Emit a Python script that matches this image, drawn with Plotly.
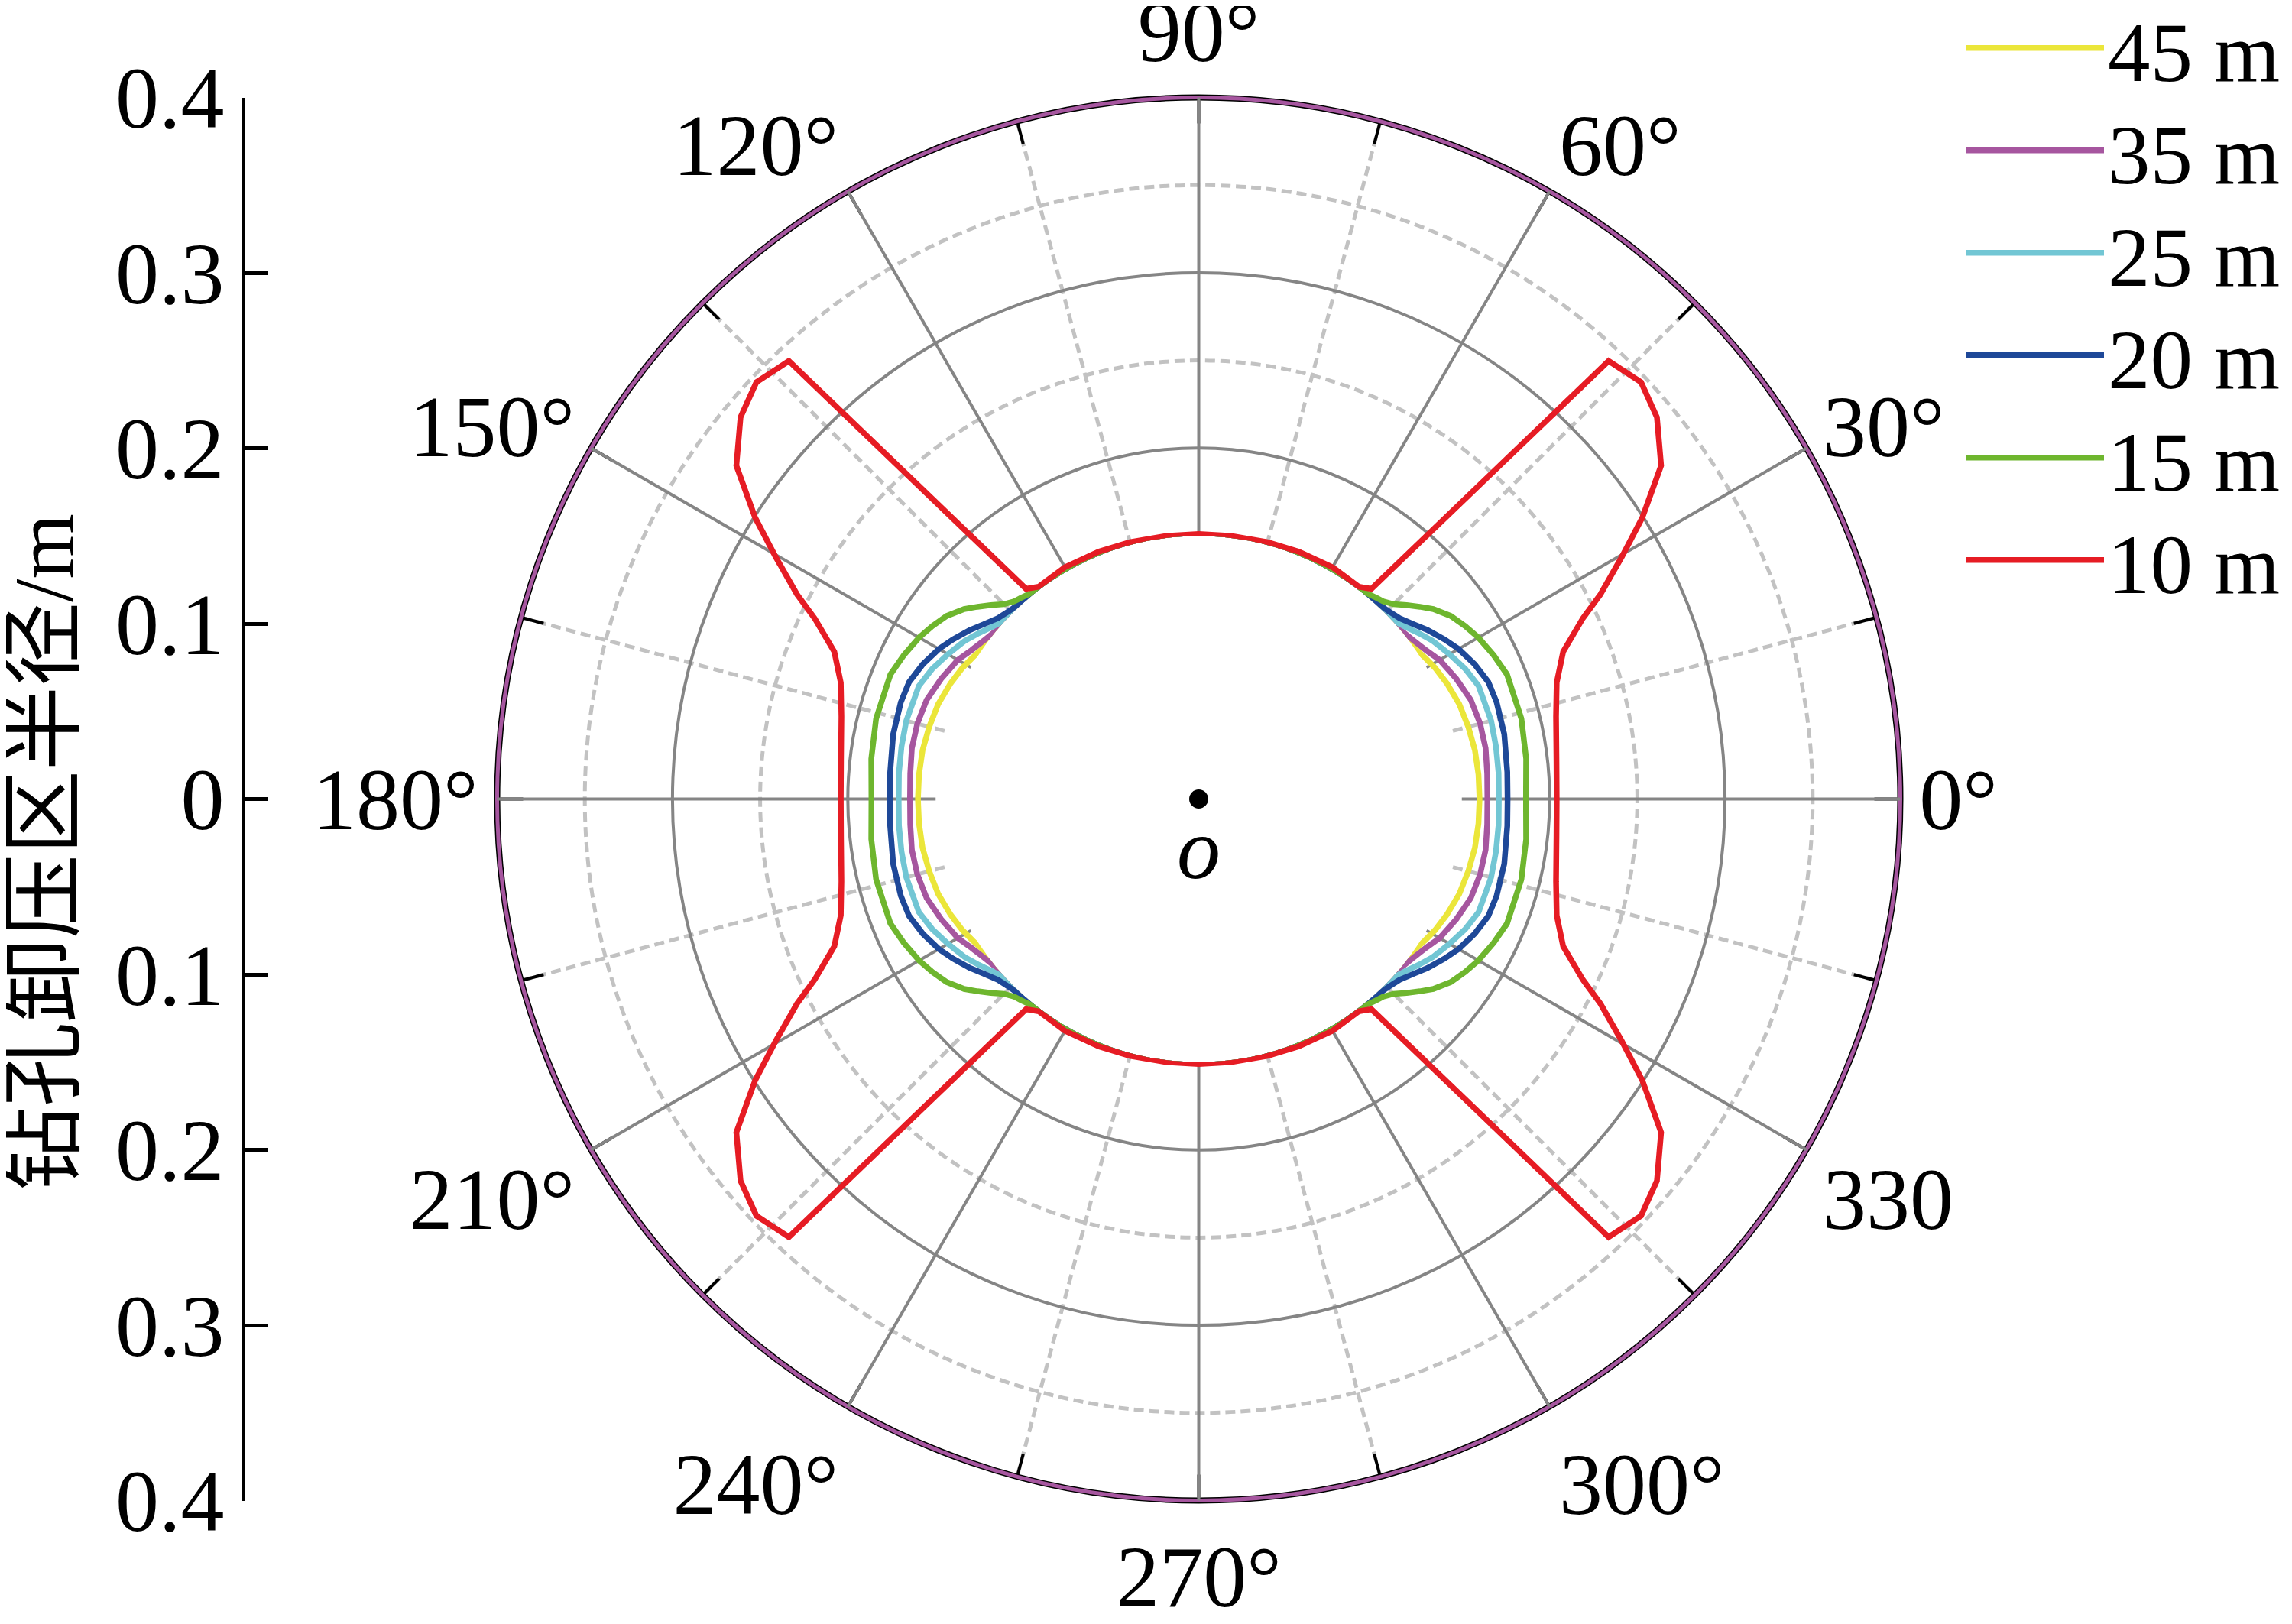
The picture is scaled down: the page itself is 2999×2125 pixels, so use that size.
import plotly.graph_objects as go

# ---------------- data (first quadrant, theta in degrees; curves are symmetric about both axes) -------------
series_names = ["45 m", "35 m", "25 m", "20 m", "15 m", "10 m"]
series_colors = ["#ebe63a", "#a6569f", "#72c6d4", "#1e4898", "#6eb62e", "#e61c24"]

theta_45m = [0, 5, 10, 15, 20, 25, 29, 32, 35, 45, 60, 75, 90]
r_45m = [0.160, 0.160, 0.1598, 0.159, 0.158, 0.156, 0.154, 0.152, 0.150, 0.150, 0.150, 0.150, 0.150]

theta_35m = [0, 5, 10, 15, 20, 25, 30, 33, 36.6, 40, 50, 60, 75, 90]
r_35m = [0.1645, 0.165, 0.166, 0.166, 0.165, 0.162, 0.1585, 0.155, 0.152, 0.150, 0.150, 0.150, 0.150, 0.150]

theta_25m = [0, 5, 10, 15, 22, 26, 30, 34, 37, 40, 43, 55, 70, 90]
r_25m = [0.171, 0.1715, 0.172, 0.1725, 0.172, 0.169, 0.165, 0.161, 0.157, 0.153, 0.150, 0.150, 0.150, 0.150]

theta_20m = [0, 5, 12, 18, 22, 26, 30, 33, 36.5, 39, 42, 45, 48, 52, 65, 80, 90]
r_20m = [0.176, 0.1765, 0.178, 0.1785, 0.178, 0.175, 0.171, 0.167, 0.162, 0.158, 0.154, 0.152, 0.151, 0.150,
         0.150, 0.150, 0.150]

theta_15m = [0, 7, 14, 22, 26, 30, 33, 36, 39, 41, 43, 45, 47, 48.5, 53, 65, 80, 90]
r_15m = [0.1865, 0.188, 0.1895, 0.1895, 0.187, 0.184, 0.181, 0.1775, 0.172, 0.167, 0.162, 0.157, 0.154, 0.153,
         0.150, 0.150, 0.150, 0.150]

theta_10m = [0, 6, 13, 18, 22, 25.2, 27, 29.8, 32.4, 35.8, 39.8, 43.3, 46.9, 50.6, 53, 60, 68, 75, 83, 90]
r_10m = [0.204, 0.205, 0.209, 0.2145, 0.224, 0.242, 0.257, 0.278, 0.2995, 0.325, 0.340, 0.3465, 0.342, 0.155,
         0.1515, 0.1525, 0.152, 0.1515, 0.151, 0.151]

series_theta = [theta_45m, theta_35m, theta_25m, theta_20m, theta_15m, theta_10m]
series_r = [r_45m, r_35m, r_25m, r_20m, r_15m, r_10m]

angle_ticks = [0, 30, 60, 90, 120, 150, 180, 210, 240, 270, 300, 330]
angle_labels = ["0°", "30°", "60°", "90°", "120°", "150°", "180°", "210°", "240°", "270°", "300°", "330"]
minor_angle_ticks = [15, 45, 75, 105, 135, 165, 195, 225, 255, 285, 315, 345]
major_r_ticks = [0.2, 0.3]
minor_r_ticks = [0.15, 0.25, 0.35]
y_ticks = [-0.4, -0.3, -0.2, -0.1, 0, 0.1, 0.2, 0.3, 0.4]
y_labels = ["0.4", "0.3", "0.2", "0.1", "0", "0.1", "0.2", "0.3", "0.4"]
y_title = "钻孔卸压区半径/m"


def mirror_quadrants(th, r):
    """Extend first-quadrant readings to the full circle using the figure's two-axis symmetry."""
    T = list(th) + [180 - t for t in reversed(th)] + [180 + t for t in th] + [360 - t for t in reversed(th)]
    R = list(r) + list(reversed(r)) + list(r) + list(reversed(r))
    return T, R


W, H = 2999, 2125
cx, cy, Rpx = 1560.5, 1037.5, 918.0
xdom = [(cx - Rpx) / W, (cx + Rpx) / W]
ydom = [1 - (cy + Rpx) / H, 1 - (cy - Rpx) / H]
dom = dict(x=xdom, y=ydom)

SERIF = "Liberation Serif"
CJK_FONT = "Liberation Serif, Noto Sans CJK SC"
FS = 114
GRID_MAJOR = "#858585"
GRID_MINOR = "#c2c2c2"
DASH = "13px,7px"

fig = go.Figure()

# invisible points so the grid-only polar layers get rendered
for sp in ["polar", "polar2", "polar3"]:
    fig.add_trace(go.Scatterpolar(r=[0.4], theta=[0], subplot=sp, mode="markers",
                                  marker=dict(opacity=0, size=1), showlegend=False, hoverinfo="skip"))

legend_names = ["legend", "legend2", "legend3", "legend4", "legend5", "legend6"]
for i, (name, col, th, rr) in enumerate(zip(series_names, series_colors, series_theta, series_r)):
    T, R = mirror_quadrants(th, rr)
    fig.add_trace(go.Scatterpolar(
        theta=T, r=R, mode="lines", name=name, subplot="polar4",
        line=dict(color=col, width=7.5), cliponaxis=False, legend=legend_names[i],
    ))

# centre point O
fig.add_trace(go.Scatter(x=[0], y=[0], mode="markers", marker=dict(size=25, color="black"),
                         showlegend=False, cliponaxis=False, xaxis="x", yaxis="y", hoverinfo="skip"))

tickfont = dict(family=SERIF, size=FS, color="black")
hidden_radial = dict(visible=False, range=[0, 0.4])

layout = dict(
    width=W, height=H,
    margin=dict(l=0, r=0, t=0, b=0, autoexpand=False),
    paper_bgcolor="white", plot_bgcolor="rgba(0,0,0,0)",
    font=dict(family=SERIF, size=FS, color="black"),
    # dashed minor grid + minor angular tick marks
    polar=dict(
        domain=dom, hole=0.375, bgcolor="white",
        radialaxis=dict(range=[0.1499, 0.4], tickmode="array", tickvals=minor_r_ticks, showticklabels=False,
                        ticks="", showline=False, gridcolor=GRID_MINOR, gridwidth=4.5, griddash=DASH),
        angularaxis=dict(rotation=0, direction="counterclockwise", tickmode="array",
                         tickvals=minor_angle_ticks, ticktext=[""] * len(minor_angle_ticks),
                         ticks="inside", ticklen=30, tickwidth=4, tickcolor="black",
                         showline=False, gridcolor=GRID_MINOR, gridwidth=4.5, griddash=DASH),
    ),
    # outer rim (black underneath) + major tick marks
    polar2=dict(
        domain=dom, hole=0, bgcolor="rgba(0,0,0,0)", radialaxis=hidden_radial,
        angularaxis=dict(rotation=0, direction="counterclockwise", tickmode="array", tickvals=angle_ticks,
                         showline=True, linecolor="black", linewidth=8, showgrid=False,
                         ticks="inside", ticklen=30, tickwidth=4, tickcolor="black",
                         showticklabels=False),
    ),
    polar3=dict(
        domain=dom, hole=0, bgcolor="rgba(0,0,0,0)", radialaxis=hidden_radial,
        angularaxis=dict(showline=True, linecolor="#a6569f", linewidth=5, showgrid=False, ticks="",
                         showticklabels=False),
    ),
    # solid major grid, labels and data (transparent axis line keeps the label offset)
    polar4=dict(
        domain=dom, hole=0.375, bgcolor="rgba(0,0,0,0)",
        radialaxis=dict(range=[0.1499, 0.4], tickmode="array", tickvals=major_r_ticks, showticklabels=False,
                        ticks="", showline=False, gridcolor=GRID_MAJOR, gridwidth=4, layer="below traces"),
        angularaxis=dict(rotation=0, direction="counterclockwise", tickmode="array",
                         tickvals=angle_ticks, ticktext=angle_labels,
                         ticks="inside", ticklen=12, tickwidth=1, tickcolor="rgba(0,0,0,0)",
                         showline=True, linecolor="rgba(0,0,0,0)", linewidth=4,
                         gridcolor=GRID_MAJOR, gridwidth=4, tickfont=tickfont,
                         layer="below traces"),
    ),
    xaxis=dict(domain=xdom, range=[-0.4, 0.4], visible=False, fixedrange=True),
    yaxis=dict(domain=ydom, range=[-0.4, 0.4], anchor="free", position=310 / W,
               tickmode="array", tickvals=y_ticks, ticktext=y_labels,
               ticks="inside", ticklen=30, tickwidth=4.5, tickcolor="black",
               showline=True, linecolor="black", linewidth=4.5,
               showgrid=False, zeroline=False, tickfont=tickfont, fixedrange=True),
    annotations=[
        dict(text="<i>o</i>", x=0, y=-0.0283, xref="x", yref="y", showarrow=False,
             font=dict(family=SERIF, size=FS, color="black"), xanchor="center", yanchor="middle"),
        dict(text=y_title, x=50 / W, y=1 - 1107 / H, xref="paper", yref="paper", showarrow=False,
             textangle=-90, font=dict(family=CJK_FONT, size=110, color="black"),
             xanchor="center", yanchor="middle"),
    ],
)

legend_line_y = [55, 189, 323, 457, 591, 725]
for ln, ly in zip(legend_names, legend_line_y):
    layout[ln] = dict(x=2560 / W, xanchor="left", y=1 - ly / H, yanchor="middle",
                      font=dict(family=SERIF, size=111, color="black"),
                      bgcolor="rgba(0,0,0,0)", borderwidth=0, itemwidth=180)

fig.update_layout(**layout)
fig.write_html("out.html")
